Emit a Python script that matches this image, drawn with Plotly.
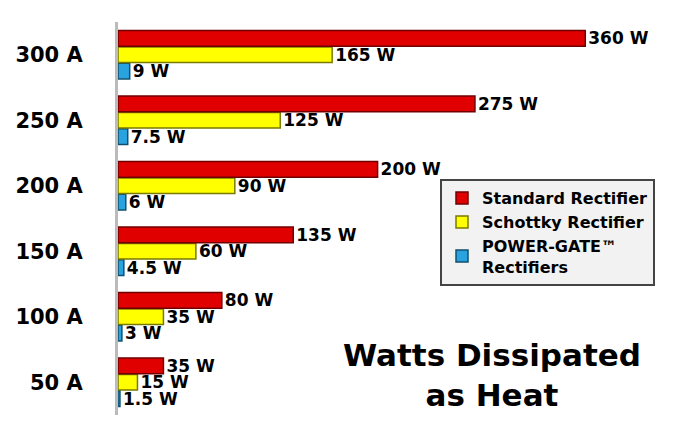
import plotly.graph_objects as go

currents = ["50 A", "100 A", "150 A", "200 A", "250 A", "300 A"]
standard = [35, 80, 135, 200, 275, 360]
schottky = [15, 35, 60, 90, 125, 165]
powergate = [1.5, 3, 4.5, 6, 7.5, 9]

standard_txt = ["35 W", "80 W", "135 W", "200 W", "275 W", "360 W"]
schottky_txt = ["15 W", "35 W", "60 W", "90 W", "125 W", "165 W"]
powergate_txt = ["1.5 W", "3 W", "4.5 W", "6 W", "7.5 W", "9 W"]

fig = go.Figure()
fig.add_trace(go.Bar(y=currents, x=powergate, orientation="h", name="<b>POWER-GATE™<br>Rectifiers</b>",
                     marker=dict(color="#29a3e0", line=dict(color="#10506e", width=1.5)),
                     text=powergate_txt))
fig.add_trace(go.Bar(y=currents, x=schottky, orientation="h", name="<b>Schottky Rectifier</b>",
                     marker=dict(color="#ffff00", line=dict(color="#7a7a00", width=1.5)),
                     text=schottky_txt))
fig.add_trace(go.Bar(y=currents, x=standard, orientation="h", name="<b>Standard Rectifier</b>",
                     marker=dict(color="#e00000", line=dict(color="#700000", width=1.5)),
                     text=standard_txt))

# bold value labels next to each bar
fig.update_traces(textposition="outside", cliponaxis=False, constraintext="none",
                  texttemplate="<b>%{text}</b>",
                  textfont=dict(family="DejaVu Sans", size=17, color="black"))

fig.update_layout(
    width=690, height=427,
    margin=dict(l=110, r=5, t=14, b=20),
    barmode="group", bargap=0.25, bargroupgap=0.05,
    paper_bgcolor="white", plot_bgcolor="white",
    font=dict(family="DejaVu Sans", color="black"),
    xaxis=dict(range=[0, 443], visible=False),
    yaxis=dict(showline=True, linecolor="#bbbbbb", linewidth=3,
               tickfont=dict(family="DejaVu Sans", size=21, color="black"),
               tickprefix="<b>", ticksuffix="</b>",
               ticks="", ticklabelstandoff=28),
    showlegend=True,
    legend=dict(x=0.56, y=0.6, xanchor="left", yanchor="top", traceorder="reversed",
                bgcolor="#f2f2f2", bordercolor="#444444", borderwidth=2,
                font=dict(family="DejaVu Sans", size=16, color="black"),
                tracegroupgap=20),
    annotations=[dict(text="<b>Watts Dissipated<br>as Heat</b>", x=0.65, y=0.0,
                      xref="paper", yref="paper", xanchor="center", yanchor="bottom",
                      showarrow=False, font=dict(family="DejaVu Sans", size=31, color="black"))],
)

fig.write_html("out.html")
